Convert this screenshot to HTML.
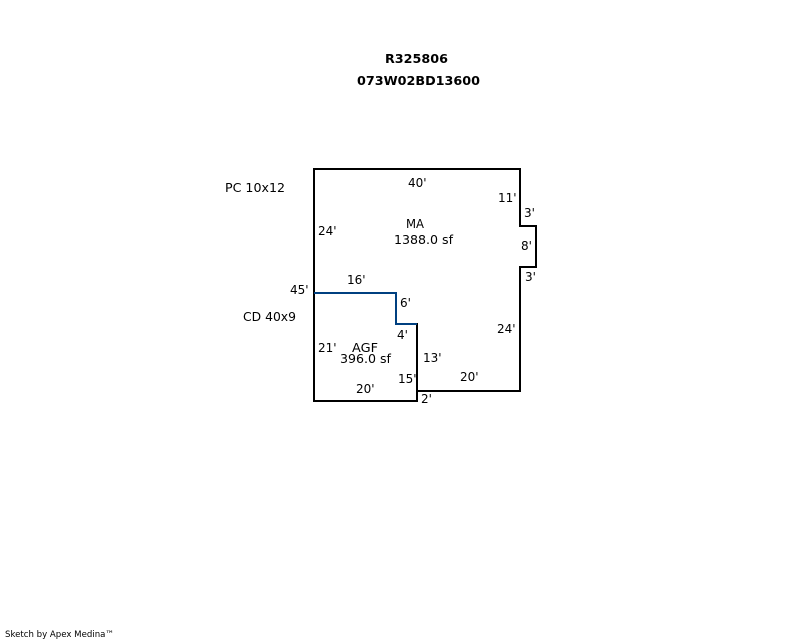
<!DOCTYPE html>
<html>
<head>
<meta charset="utf-8">
<style>
html,body{margin:0;padding:0;background:#fff;width:800px;height:640px;overflow:hidden}
svg{display:block}
text{font-family:"DejaVu Sans","Liberation Sans",sans-serif;font-size:12px;fill:#000}
</style>
</head>
<body>
<svg width="800" height="640" viewBox="0 0 800 640" xmlns="http://www.w3.org/2000/svg" shape-rendering="crispEdges">
<path d="M314 293V169H520V226H536V267H520V391H417" fill="none" stroke="#000" stroke-width="2" stroke-linecap="square"/>
<path d="M314 293V401H417V324" fill="none" stroke="#000" stroke-width="2" stroke-linecap="square"/>
<path d="M314 293H396V324H417" fill="none" stroke="#004080" stroke-width="2" stroke-linejoin="miter"/>
<text x="385" y="63" textLength="63" lengthAdjust="spacingAndGlyphs" style="font-weight:bold">R325806</text>
<text x="357" y="85" textLength="123" lengthAdjust="spacingAndGlyphs" style="font-weight:bold">073W02BD13600</text>
<text x="225" y="192" textLength="60" lengthAdjust="spacingAndGlyphs">PC 10x12</text>
<text x="243" y="321" textLength="53" lengthAdjust="spacingAndGlyphs">CD 40x9</text>
<text x="408" y="187">40'</text>
<text x="498" y="202">11'</text>
<text x="524" y="217">3'</text>
<text x="406" y="228" textLength="18" lengthAdjust="spacingAndGlyphs">MA</text>
<text x="394" y="244" textLength="59" lengthAdjust="spacingAndGlyphs">1388.0 sf</text>
<text x="318" y="235">24'</text>
<text x="521" y="250">8'</text>
<text x="525" y="281">3'</text>
<text x="347" y="284">16'</text>
<text x="290" y="294">45'</text>
<text x="400" y="307">6'</text>
<text x="497" y="333">24'</text>
<text x="397" y="339">4'</text>
<text x="318" y="352">21'</text>
<text x="352" y="352" textLength="26" lengthAdjust="spacingAndGlyphs">AGF</text>
<text x="340" y="363" textLength="51" lengthAdjust="spacingAndGlyphs">396.0 sf</text>
<text x="423" y="362">13'</text>
<text x="460" y="381">20'</text>
<text x="398" y="383">15'</text>
<text x="356" y="393">20'</text>
<text x="421" y="403">2'</text>
<text x="5" y="637" textLength="109" lengthAdjust="spacingAndGlyphs" style="font-size:9px">Sketch by Apex Medina™</text>
</svg>
</body>
</html>
